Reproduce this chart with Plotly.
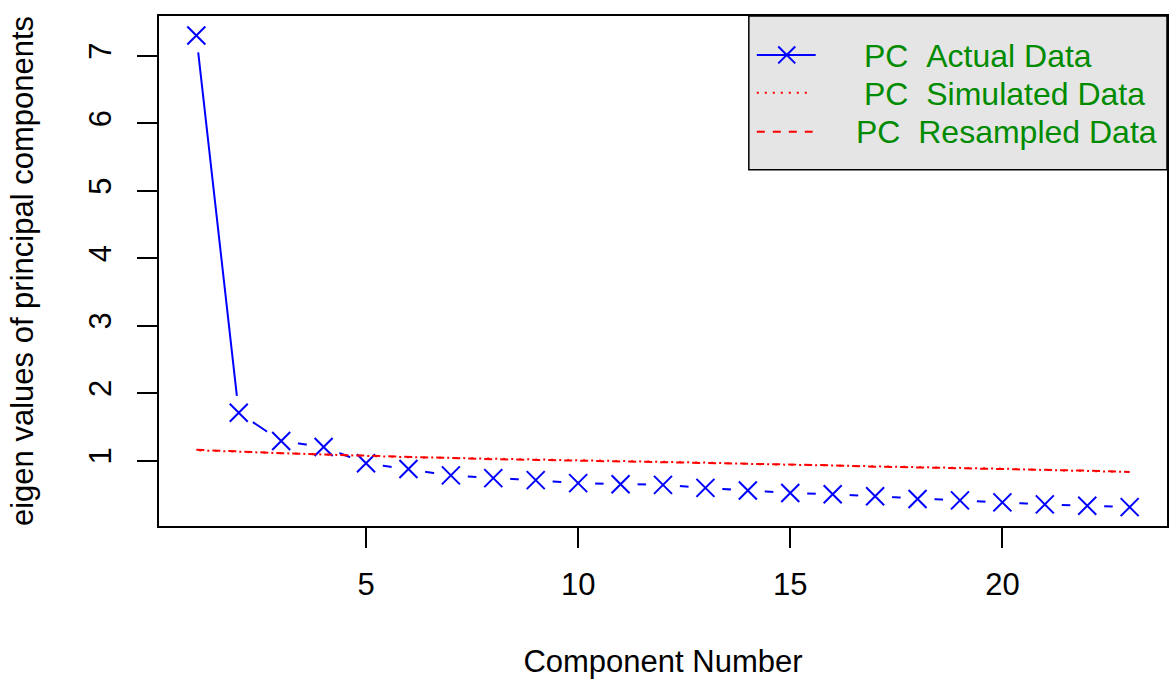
import plotly.graph_objects as go

# component index and eigen values
components = list(range(1, 24))
actual_pc = [7.30, 1.71, 1.29, 1.20, 0.96, 0.875, 0.78, 0.74, 0.71, 0.665, 0.65, 0.64,
             0.595, 0.555, 0.52, 0.50, 0.47, 0.43, 0.41, 0.38, 0.35, 0.33, 0.31]
simulated_pc = [1.15, 1.13, 1.11, 1.08, 1.06, 1.05, 1.04, 1.03, 1.01, 1.00, 0.99, 0.98,
                0.97, 0.95, 0.94, 0.93, 0.92, 0.90, 0.89, 0.88, 0.86, 0.85, 0.83]
resampled_pc = [1.16, 1.13, 1.11, 1.09, 1.07, 1.05, 1.04, 1.02, 1.01, 1.00, 0.99, 0.98,
                0.96, 0.95, 0.94, 0.93, 0.91, 0.90, 0.89, 0.87, 0.86, 0.85, 0.83]
legend_labels = ["PC\u00a0\u00a0Actual Data", "PC\u00a0\u00a0Simulated Data", "PC\u00a0\u00a0Resampled Data"]
x_ticks = [5, 10, 15, 20]
y_ticks = [1, 2, 3, 4, 5, 6, 7]

W, H = 1174, 679
ML, MR, MT, MB = 159, 5, 16, 152
FONT = "Liberation Sans, Arial, sans-serif"
FS = 31
DOTTED = "0px,3px,2px,3px"
DASHED = "8px,8px"

fig = go.Figure()

# type="b" look: solid line, gaps punched around each point
fig.add_trace(go.Scatter(x=components, y=actual_pc, mode="lines",
                         line=dict(color="blue", width=2), showlegend=False))
fig.add_trace(go.Scatter(x=components, y=actual_pc, mode="markers",
                         marker=dict(symbol="circle", size=34, color="white"),
                         showlegend=False, hoverinfo="skip"))
fig.add_trace(go.Scatter(x=components, y=actual_pc, mode="markers",
                         marker=dict(symbol="x-thin", size=18, line=dict(color="blue", width=2)),
                         showlegend=False))
fig.add_trace(go.Scatter(x=components, y=simulated_pc, mode="lines",
                         line=dict(color="red", width=2, dash=DOTTED), showlegend=False))
fig.add_trace(go.Scatter(x=components, y=resampled_pc, mode="lines",
                         line=dict(color="red", width=2, dash=DASHED), showlegend=False))


# pixel -> paper helpers for the hand drawn legend
def px(x):
    return (x - ML) / (W - ML - MR)


def py(y):
    return 1 - (y - MT) / (H - MT - MB)


shapes = [
    dict(type="rect", xref="paper", yref="paper", x0=px(750), x1=1, y0=py(170), y1=1,
         fillcolor="#E5E5E5", line=dict(color="black", width=1.5), layer="above"),
    dict(type="line", xref="paper", yref="paper", x0=px(758), x1=px(817), y0=py(55), y1=py(55),
         line=dict(color="blue", width=2)),
    dict(type="line", xref="paper", yref="paper", x0=px(779.5), x1=px(796.5), y0=py(46.5), y1=py(63.5),
         line=dict(color="blue", width=2)),
    dict(type="line", xref="paper", yref="paper", x0=px(779.5), x1=px(796.5), y0=py(63.5), y1=py(46.5),
         line=dict(color="blue", width=2)),
    dict(type="line", xref="paper", yref="paper", x0=px(758), x1=px(812), y0=py(93), y1=py(93),
         line=dict(color="red", width=2, dash="2px,6px")),
    dict(type="line", xref="paper", yref="paper", x0=px(758), x1=px(814), y0=py(132), y1=py(132),
         line=dict(color="red", width=2, dash=DASHED)),
]
annotations = []
for label, lx, ly in zip(legend_labels, [863, 863, 855], [56, 94, 132]):
    annotations.append(dict(text=label, xref="paper", yref="paper", x=px(lx), y=py(ly),
                            xanchor="left", yanchor="middle", showarrow=False,
                            font=dict(family=FONT, size=32, color="#008B00")))

fig.update_layout(
    width=W, height=H,
    margin=dict(l=ML, r=MR, t=MT, b=MB),
    paper_bgcolor="white", plot_bgcolor="white",
    font=dict(family=FONT, size=FS, color="black"),
    shapes=shapes, annotations=annotations,
    showlegend=False,
)
fig.update_xaxes(range=[0.12, 23.88], tickvals=x_ticks, showgrid=False, zeroline=False,
                 showline=True, mirror=True, linecolor="black", linewidth=1.5,
                 ticks="outside", ticklen=20, tickwidth=1.5, tickcolor="black",
                 tickfont=dict(size=FS), ticklabelstandoff=10,
                 title=dict(text="Component Number", font=dict(size=FS), standoff=50))
fig.update_yaxes(range=[0.03, 7.59], tickvals=y_ticks, showgrid=False, zeroline=False,
                 showline=True, mirror=True, linecolor="black", linewidth=1.5,
                 ticks="outside", ticklen=20, tickwidth=1.5, tickcolor="black", tickangle=-90,
                 tickfont=dict(size=FS), ticklabelstandoff=14,
                 title=dict(text="eigen values of principal components", font=dict(size=FS), standoff=40))

fig.write_html("out.html", config={"displayModeBar": False},
               post_script="document.body.style.margin='0';")
